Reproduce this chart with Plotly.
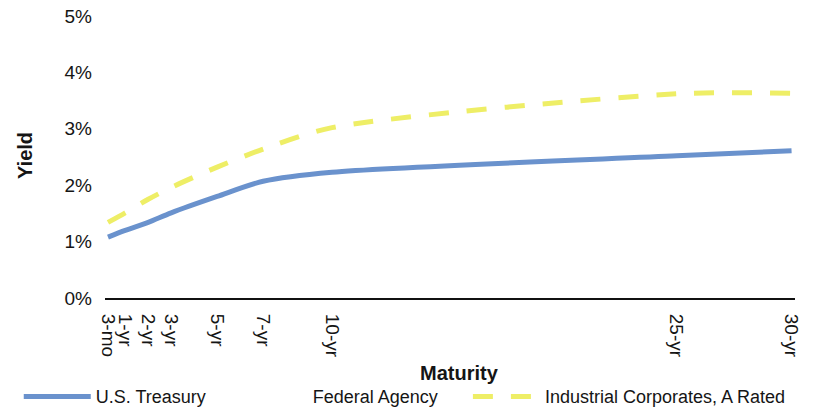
import plotly.graph_objects as go

# Maturities in years and their axis labels
maturity_years = [0.25, 1, 2, 3, 5, 7, 10, 25, 30]
maturity_labels = ["3-mo", "1-yr", "2-yr", "3-yr", "5-yr", "7-yr", "10-yr", "25-yr", "30-yr"]

# Yields in percent
us_treasury = [1.08, 1.20, 1.34, 1.51, 1.80, 2.07, 2.23, 2.52, 2.61]
industrial_a = [1.34, 1.51, 1.75, 1.96, 2.32, 2.64, 3.02, 3.62, 3.63]

yield_ticks = [0, 1, 2, 3, 4, 5]

FONT = "Liberation Sans, Arial, sans-serif"
TEXT = "#151515"
BLUE = "#6a92cd"
YELLOW = "#eeee66"
PAD = "\u00a0"  # non-breaking space, widens a legend entry

fig = go.Figure()

fig.add_trace(go.Scatter(
    x=maturity_years, y=us_treasury, name="U.S. Treasury" + PAD * 5,
    mode="lines", line=dict(color=BLUE, width=5, shape="spline", smoothing=0.8),
))
fig.add_trace(go.Scatter(
    x=[None], y=[None], name="Federal Agency" + PAD * 5,
    mode="lines", line=dict(color="rgba(255,255,255,0)", width=5),
))
fig.add_trace(go.Scatter(
    x=maturity_years, y=industrial_a, name="Industrial Corporates, A Rated",
    mode="lines", line=dict(color=YELLOW, width=5, dash="20px,18px",
                            shape="spline", smoothing=0.8),
))

fig.update_layout(
    width=833, height=418,
    margin=dict(l=105, r=38, t=16, b=120, autoexpand=False),
    paper_bgcolor="white", plot_bgcolor="white",
    font=dict(family=FONT, color=TEXT, size=17),
    showlegend=True,
    legend=dict(
        orientation="h", x=-0.125, xanchor="left", y=-0.35, yanchor="middle",
        font=dict(size=18, color=TEXT), itemwidth=67,
        bgcolor="rgba(0,0,0,0)",
    ),
    xaxis=dict(
        range=[0.12, 30.15], tickmode="array",
        tickvals=maturity_years, ticktext=maturity_labels,
        tickangle=90, tickfont=dict(size=19, color=TEXT),
        showgrid=False, zeroline=False, showline=True, automargin=False,
        linecolor="#111111", linewidth=2, ticks="", ticklabelstandoff=10,
    ),
    yaxis=dict(
        range=[0, 5], tickmode="array", tickvals=yield_ticks,
        ticktext=[f"{v}%" for v in yield_ticks],
        tickfont=dict(size=19, color=TEXT), automargin=False,
        showgrid=False, zeroline=False, showline=False, ticks="",
        ticklabelstandoff=12,
    ),
    annotations=[
        dict(text="<b>Yield</b>", xref="paper", yref="paper",
             x=-0.116, y=0.507, xanchor="center", yanchor="middle",
             textangle=-90, showarrow=False,
             font=dict(size=20, color=TEXT)),
        dict(text="<b>Maturity</b>", xref="paper", yref="paper",
             x=0.514, y=-0.266, xanchor="center", yanchor="middle",
             showarrow=False, font=dict(size=20, color=TEXT)),
    ],
)

fig.write_html("out.html")
